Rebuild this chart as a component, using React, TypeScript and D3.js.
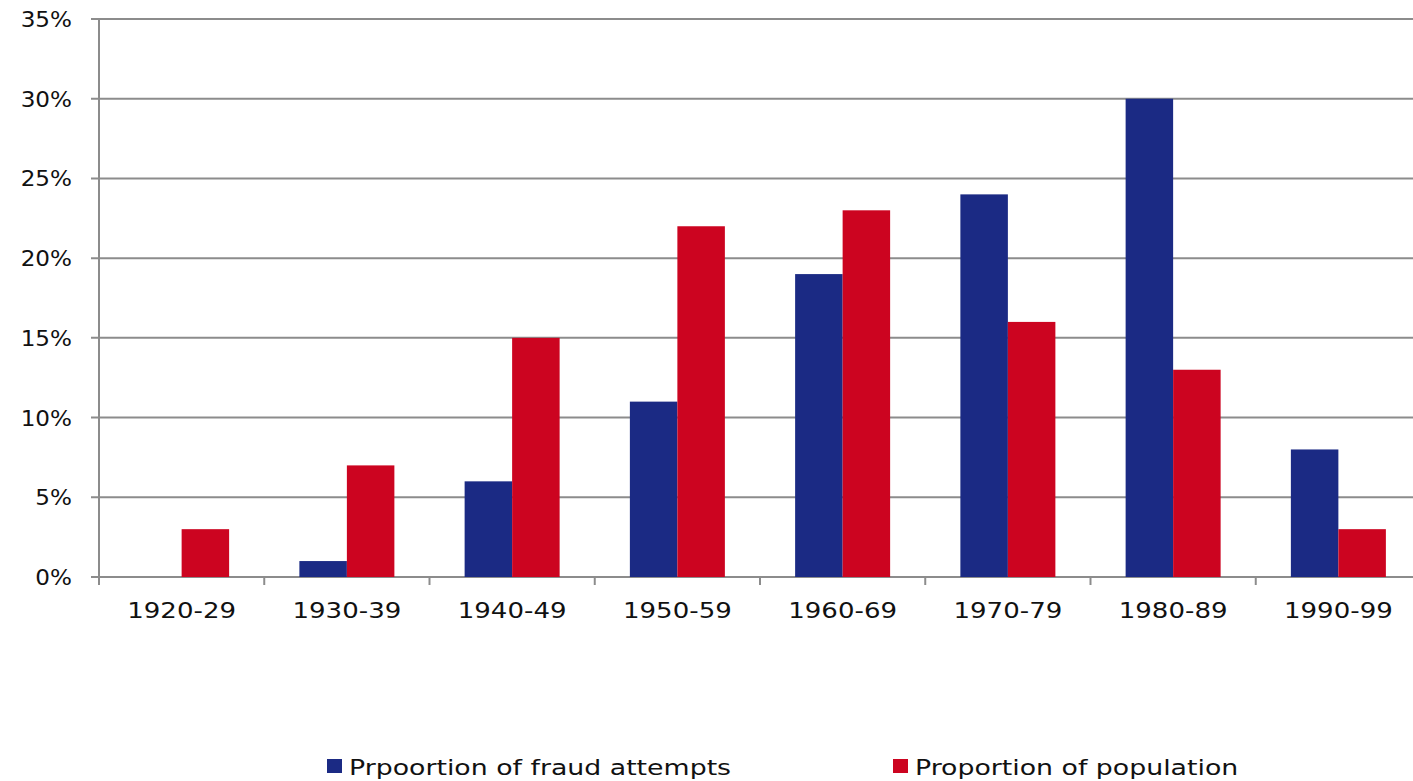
import React, { useEffect, useRef } from "react";
import * as d3 from "d3";

const categories = ["1920-29", "1930-39", "1940-49", "1950-59", "1960-69", "1970-79", "1980-89", "1990-99"];
const fraudValues = [0, 1, 6, 11, 19, 24, 30, 8];
const populationValues = [3, 7, 15, 22, 23, 16, 13, 3];
const yTicks = [0, 5, 10, 15, 20, 25, 30, 35];
const seriesNames = ["Prpoortion of fraud attempts", "Proportion of population"];
const seriesColors = ["#1b2a84", "#cc0420"];

const App = () => {
  const svgRef = useRef<SVGSVGElement | null>(null);

  useEffect(() => {
    const width = 1413;
    const height = 781;
    const left = 99;
    const font = "'DejaVu Sans', Verdana, sans-serif";
    const grid = "#8c8c8c";

    const svg = d3.select(svgRef.current);
    svg.selectAll("*").remove();
    svg.attr("width", width).attr("height", height);

    const x = d3.scaleBand<string>().domain(categories).range([left, 1421]);
    const y = d3.scaleLinear().domain([0, 35]).range([577, 19]);
    const barW = 47.5;

    // gridlines + y ticks
    svg.append("g")
      .selectAll("line")
      .data(yTicks)
      .join("line")
      .attr("x1", left - 8)
      .attr("x2", width)
      .attr("y1", (d) => y(d))
      .attr("y2", (d) => y(d))
      .attr("stroke", grid)
      .attr("stroke-width", 2);

    // y axis line
    svg.append("line")
      .attr("x1", left).attr("x2", left)
      .attr("y1", y(35)).attr("y2", 585)
      .attr("stroke", grid).attr("stroke-width", 2);

    // x tick marks at category boundaries
    svg.append("g")
      .selectAll("line")
      .data(categories)
      .join("line")
      .attr("x1", (d) => x(d)!)
      .attr("x2", (d) => x(d)!)
      .attr("y1", y(0))
      .attr("y2", 585)
      .attr("stroke", grid)
      .attr("stroke-width", 2);

    // bars
    const series = [fraudValues, populationValues];
    series.forEach((vals, si) => {
      svg.append("g")
        .selectAll("rect")
        .data(vals)
        .join("rect")
        .attr("x", (d, i) => x(categories[i])! + x.bandwidth() / 2 - barW + si * barW)
        .attr("y", (d) => y(d))
        .attr("width", barW)
        .attr("height", (d) => y(0) - y(d))
        .attr("fill", seriesColors[si]);
    });

    // y labels
    svg.append("g")
      .selectAll("text")
      .data(yTicks)
      .join("text")
      .attr("transform", (d) => `translate(72,${y(d) + 8}) scale(1.1,1)`)
      .attr("text-anchor", "end")
      .attr("font-family", font)
      .attr("font-size", 21)
      .attr("fill", "#111")
      .text((d) => d + "%");

    // x labels
    svg.append("g")
      .selectAll("text")
      .data(categories)
      .join("text")
      .attr("transform", (d) => `translate(${x(d)! + x.bandwidth() / 2},618) scale(1.24,1)`)
      .attr("text-anchor", "middle")
      .attr("font-family", font)
      .attr("font-size", 21)
      .attr("fill", "#111")
      .text((d) => d);

    // legend
    const legendX = [327, 893];
    seriesNames.forEach((name, i) => {
      svg.append("rect")
        .attr("x", legendX[i]).attr("y", 759)
        .attr("width", 15).attr("height", 14)
        .attr("fill", seriesColors[i]);
      svg.append("text")
        .attr("transform", `translate(${legendX[i] + 22},775) scale(1.275,1)`)
        .attr("font-family", font)
        .attr("font-size", 21)
        .attr("fill", "#111")
        .text(name);
    });
  }, []);

  return <svg ref={svgRef} style={{ position: "absolute", left: 0, top: 0, background: "#fff" }} />;
};

export default App;
